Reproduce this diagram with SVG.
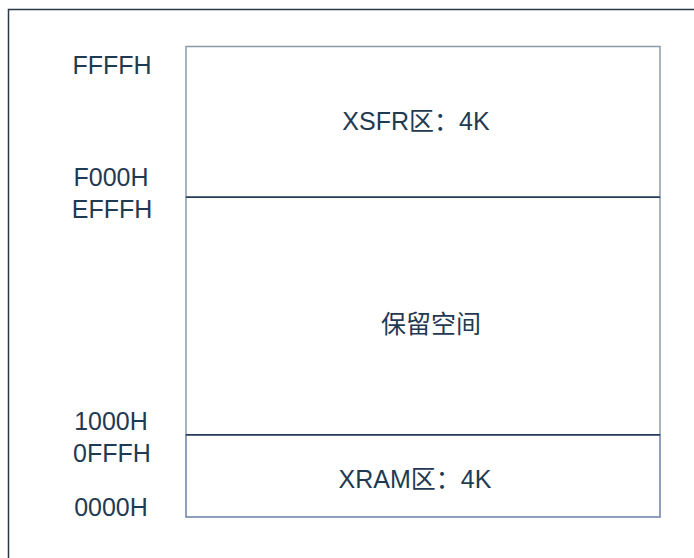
<svg xmlns="http://www.w3.org/2000/svg" width="694" height="558" viewBox="0 0 694 558">
<style>
text{font-family:"Liberation Sans","Noto Sans CJK SC",sans-serif;font-size:25px;fill:#1f3a52}
.addr{text-anchor:middle}
.lbl{text-anchor:middle}
</style>
<rect width="694" height="558" fill="#ffffff"/>
<g id="frame"><path d="M8.5 558 V9.5 H694" fill="none" stroke="#2b3a4a" stroke-width="1.5"/></g>
<g id="xsfr">
<rect x="186" y="46.5" width="474" height="150.5" fill="#fff" stroke="#8a9aab" stroke-width="1.5"/>
<text class="lbl" x="416" y="130">XSFR区：4K</text>
</g>
<g id="reserved">
<rect x="186" y="197" width="474" height="238" fill="#fff" stroke="#8a9aab" stroke-width="1.5"/>
<text class="lbl" x="431" y="333">保留空间</text>
</g>
<g id="xram">
<rect x="186" y="435" width="474" height="82" fill="#fff" stroke="#6e7fa6" stroke-width="1.5"/>
<text class="lbl" x="415" y="488">XRAM区：4K</text>
</g>
<g id="dividers">
<line x1="186" y1="197.3" x2="660" y2="197.3" stroke="#243a55" stroke-width="1.5"/>
<line x1="186" y1="434.7" x2="660" y2="434.7" stroke="#243a55" stroke-width="1.5"/>
</g>
<g id="addresses">
<text class="addr" x="112" y="74">FFFFH</text>
<text class="addr" x="111" y="186">F000H</text>
<text class="addr" x="112" y="218">EFFFH</text>
<text class="addr" x="111" y="430">1000H</text>
<text class="addr" x="112" y="462">0FFFH</text>
<text class="addr" x="111" y="516">0000H</text>
</g>
</svg>
